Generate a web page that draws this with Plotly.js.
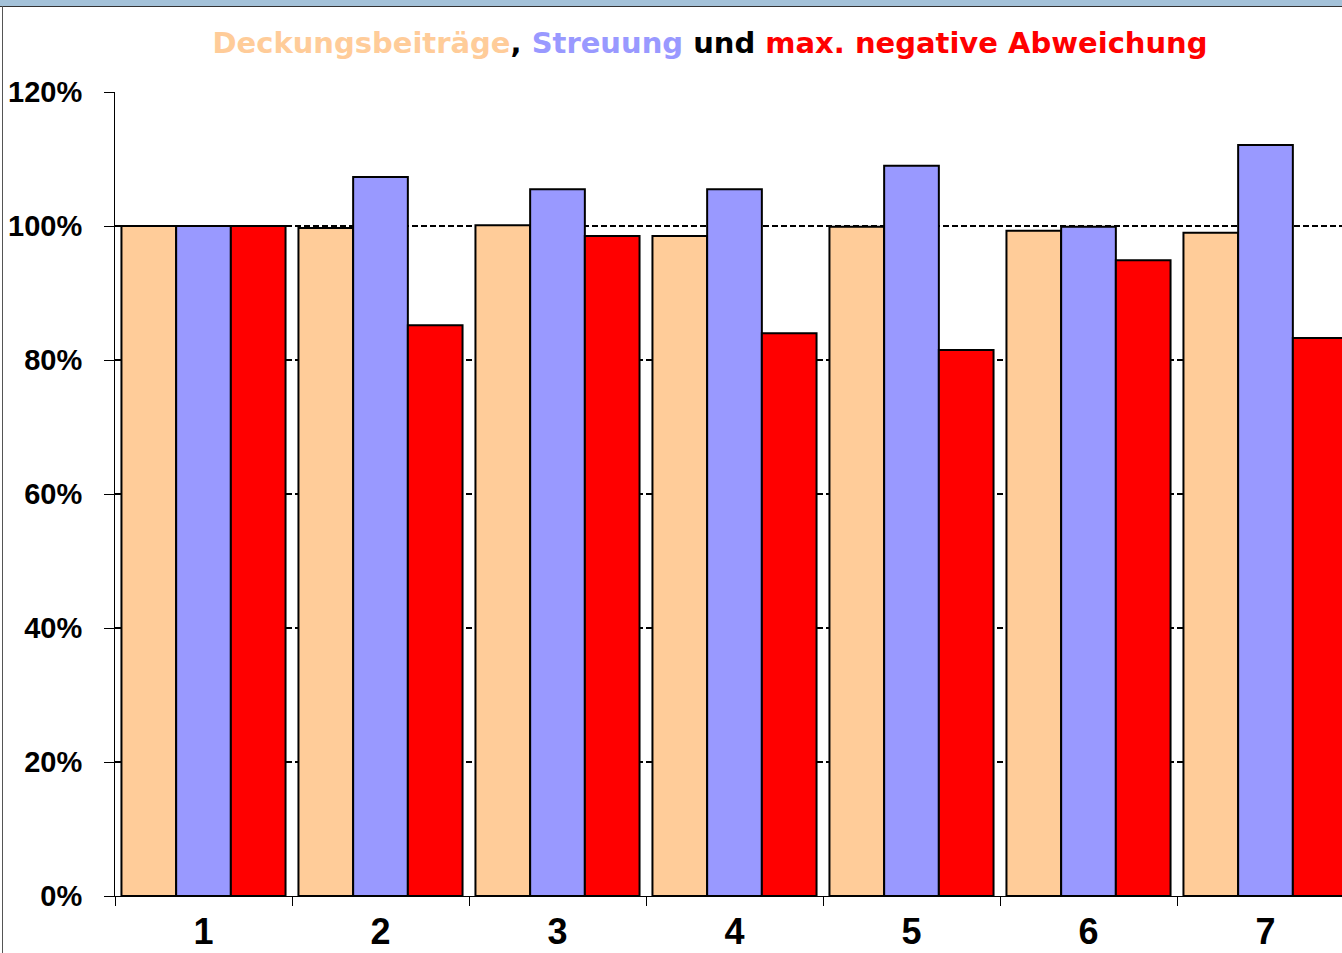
<!DOCTYPE html>
<html>
<head>
<meta charset="utf-8">
<script src="https://cdn.plot.ly/plotly-3.0.1.min.js"></script>
<style>
  html, body { margin: 0; padding: 0; background: #ffffff; overflow: hidden; }
  #frameTop { position: absolute; left: 0; top: 0; width: 1342px; height: 6px; background: #a4c2d9; border-bottom: 1px solid #333333; z-index: 2; }
  #frameLeft { position: absolute; left: 2px; top: 6px; width: 1px; height: 947px; background: #555555; z-index: 2; }
  #chart { position: absolute; left: 0; top: 0; width: 1342px; height: 953px; }
</style>
</head>
<body>
<div id="frameTop"></div>
<div id="frameLeft"></div>
<div id="chart"></div>
<script>
const categories = ['1', '2', '3', '4', '5', '6', '7'];
const deckungsbeitraege = [100.0, 99.7, 100.1, 98.5, 99.9, 99.3, 99.0];
const streuung = [100.0, 107.3, 105.5, 105.5, 109.0, 99.9, 112.1];
const maxNegativeAbweichung = [100.0, 85.2, 98.5, 84.0, 81.5, 94.9, 83.3];
const yTickValues = [0, 20, 40, 60, 80, 100, 120];
const yTickLabels = ['0%', '20%', '40%', '60%', '80%', '100%', '120%'];

const barLine = { color: '#000000', width: 2 };
const traces = [
  { type: 'bar', name: 'Deckungsbeiträge', x: categories, y: deckungsbeitraege, marker: { color: '#FFCC99', line: barLine } },
  { type: 'bar', name: 'Streuung', x: categories, y: streuung, marker: { color: '#9999FF', line: barLine } },
  { type: 'bar', name: 'max. negative Abweichung', x: categories, y: maxNegativeAbweichung, marker: { color: '#FF0000', line: barLine } }
];

const plotLeft = 115;
const visible = (1342 - plotLeft) / 177;

const layout = {
  width: 1342, height: 953,
  margin: { l: plotLeft, r: 0, t: 92, b: 57, pad: 0 },
  paper_bgcolor: 'rgba(0,0,0,0)',
  plot_bgcolor: 'rgba(0,0,0,0)',
  showlegend: false,
  barmode: 'group',
  bargap: 0.073,
  bargroupgap: 0,
  title: {
    text: '<span style="color:#FFCC99">Deckungsbeiträge</span>, <span style="color:#9999FF">Streuung</span> und <span style="color:#FF0000">max. negative Abweichung</span>',
    font: { family: 'DejaVu Sans', size: 29, color: '#000000', weight: 'bold' },
    xref: 'container', yref: 'container',
    x: 710 / 1342, xanchor: 'center',
    y: 1 - 43 / 953, yanchor: 'middle'
  },
  xaxis: {
    type: 'category',
    range: [-0.5, -0.5 + visible],
    showline: true, linecolor: '#000000', linewidth: 1,
    ticks: 'outside', tickson: 'boundaries', ticklen: 9, tickcolor: '#000000', tickwidth: 1,
    showgrid: false, zeroline: false,
    tickfont: { family: 'Liberation Sans', size: 36, color: '#000000', weight: 'bold' },
    ticklabelstandoff: 4,
    fixedrange: true
  },
  yaxis: {
    range: [0, 120],
    tickvals: yTickValues, ticktext: yTickLabels,
    showline: true, linecolor: '#000000', linewidth: 1,
    ticks: 'outside', ticklen: 10, tickcolor: '#000000', tickwidth: 1,
    showgrid: true, gridcolor: '#000000', gridwidth: 2, griddash: '6px,3px',
    zeroline: false,
    tickfont: { family: 'Liberation Sans', size: 29, color: '#000000', weight: 'bold' },
    ticklabelstandoff: 16,
    fixedrange: true
  }
};

Plotly.newPlot('chart', traces, layout, { displayModeBar: false, staticPlot: true });
</script>
</body>
</html>
